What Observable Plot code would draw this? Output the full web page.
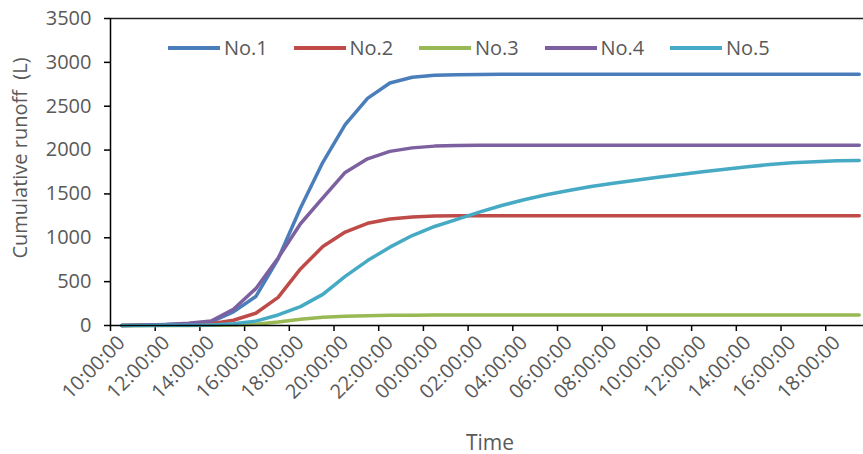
<!DOCTYPE html>
<html><head><meta charset="utf-8">
<script src="https://cdn.jsdelivr.net/npm/d3@7"></script>
<script src="https://cdn.jsdelivr.net/npm/@observablehq/plot@0.6"></script>
<style>
body{margin:0;background:#fff;}
#wrap{position:relative;width:863px;height:454px;font-family:"Open Sans",sans-serif;overflow:hidden;}
#legend{position:absolute;left:168px;top:35px;display:flex;color:#595959;font-size:20px;line-height:26px;}
.item{display:flex;align-items:center;width:125.5px;}
.item svg{margin-right:4px;}
</style></head><body><div id="wrap"></div>
<script>
const times = ["10:00:00","11:00:00","12:00:00","13:00:00","14:00:00","15:00:00","16:00:00","17:00:00","18:00:00","19:00:00","20:00:00","21:00:00","22:00:00","23:00:00","00:00:00","01:00:00","02:00:00","03:00:00","04:00:00","05:00:00","06:00:00","07:00:00","08:00:00","09:00:00","10:00:00","11:00:00","12:00:00","13:00:00","14:00:00","15:00:00","16:00:00","17:00:00","18:00:00","19:00:00"];
const seriesNames = ["No.1","No.2","No.3","No.4","No.5"];
const seriesColors = ["#4A7EBB","#BE4B48","#98B954","#7D60A0","#46AAC5"];
const no1 = [0,5,10,20,40,155,330,760,1340,1860,2290,2590,2765,2830,2853,2860,2862,2863,2864,2864,2865,2865,2865,2865,2865,2865,2865,2865,2865,2865,2865,2865,2865,2865];
const no2 = [0,3,5,10,20,60,140,320,645,900,1065,1165,1215,1238,1247,1250,1251,1252,1252,1252,1252,1252,1252,1252,1252,1252,1252,1252,1252,1252,1252,1252,1252,1252];
const no3 = [0,0,0,0,2,5,15,40,72,93,105,112,116,118,120,121,121,121,121,121,121,121,121,121,121,121,121,121,121,121,121,121,121,121];
const no4 = [0,5,12,25,50,185,420,770,1160,1455,1745,1900,1985,2025,2045,2052,2054,2055,2055,2055,2055,2055,2055,2055,2055,2055,2055,2055,2055,2055,2055,2055,2055,2055];
const no5 = [0,0,2,3,5,20,50,120,215,355,560,740,893,1026,1129,1209,1292,1368,1433,1490,1539,1585,1622,1657,1690,1722,1752,1782,1810,1835,1855,1868,1877,1880];
const yTicks = [0,500,1000,1500,2000,2500,3000,3500];
const yLabel = "Cumulative runoff  (L)";
const xLabel = "Time";

const allSeries = [no1,no2,no3,no4,no5];
const rows = [];
allSeries.forEach((vals,k)=>vals.forEach((v,i)=>rows.push({i, v, s: seriesNames[k]})));

const idx = times.map((_,i)=>i);
const labelIdx = idx.filter(i=>i%2===0);
const tickBounds = idx.filter(i=>i%2===0).map(i=>i-0.5);

const plot = Plot.plot({
  width:863, height:454,
  marginLeft:110, marginTop:18, marginBottom:129, marginRight:0,
  style:{fontFamily:"'Open Sans', sans-serif", fontSize:"20px", color:"#595959", background:"white"},
  x:{type:"linear", domain:[-0.5, 33.19]},
  y:{domain:[0,3500]},
  color:{domain:seriesNames, range:seriesColors},
  marks:[
    Plot.ruleY([3500],{stroke:"#222", strokeWidth:1.5}),
    Plot.axisY({ticks:yTicks, tickSize:6, tickPadding:13, stroke:"#000", strokeWidth:1.5, fill:"#595959", label:null, tickFormat:d=>String(d)}),
    Plot.axisX({ticks:tickBounds, tickSize:6, tickFormat:()=>"", stroke:"#000", strokeWidth:1.5, label:null}),
    Plot.axisX({ticks:labelIdx, tickSize:0, tickPadding:14, tickRotate:-45, tickFormat:i=>times[i], fill:"#595959", label:null}),
    Plot.lineY(rows, {x:"i", y:"v", z:"s", stroke:"s", strokeWidth:3.5}),
    Plot.ruleX([-0.5], {stroke:"#000", strokeWidth:1.5}),
    Plot.ruleY([0], {stroke:"#000", strokeWidth:1.5}),
    Plot.text([xLabel], {frameAnchor:"bottom", dy:124, dx:3, fill:"#595959", fontSize:21}),
    Plot.text([yLabel], {frameAnchor:"left", textAnchor:"middle", dx:-90, dy:-14, rotate:-90, fill:"#595959", fontSize:20})
  ]
});
const wrap = document.getElementById("wrap");
wrap.appendChild(plot);
const leg = document.createElement("div");
leg.id = "legend";
seriesNames.forEach((n,k)=>{
  const it = document.createElement("div");
  it.className = "item";
  it.innerHTML = `<svg width="52" height="6"><line x1="0" y1="3" x2="52" y2="3" stroke="${seriesColors[k]}" stroke-width="4"/></svg><span>${n}</span>`;
  leg.appendChild(it);
});
wrap.appendChild(leg);
</script>
</body></html>
